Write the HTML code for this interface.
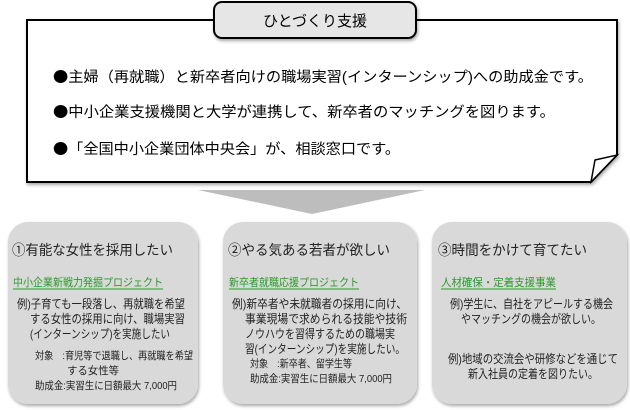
<!DOCTYPE html>
<html><head><meta charset="utf-8"><style>
html,body{margin:0;padding:0;background:#fff;}
svg{display:block;font-family:"Liberation Sans","Noto Sans CJK JP",sans-serif;}
.b{font-family:"Noto Sans CJK JP",sans-serif;}
</style></head><body>
<svg width="630" height="410" viewBox="0 0 630 410" xmlns="http://www.w3.org/2000/svg">
<defs>
<filter id="sh" x="-10%" y="-10%" width="130%" height="130%"><feDropShadow dx="1" dy="2" stdDeviation="1.5" flood-color="#000" flood-opacity="0.35"/></filter>
</defs>
<path d="M27,20 H617 V155 L591,182 H27 Z" fill="#fff" stroke="#000" stroke-width="2" filter="url(#sh)"/>
<path d="M591,182 L595,160 L617,155 Z" fill="#fff" stroke="#000" stroke-width="1.5"/>
<rect x="214" y="2" width="202" height="36" rx="8" fill="#e6e6e6" stroke="#000" stroke-width="2" filter="url(#sh)"/>
<text x="315" y="26" font-size="15" text-anchor="middle" fill="#000">ひとづくり支援</text>
<g font-size="14.5" fill="#000">
<text x="53" y="82" textLength="540" lengthAdjust="spacingAndGlyphs"><tspan class="b">●</tspan>主婦（再就職）と新卒者向けの職場実習(インターンシップ)への助成金です。</text>
<text x="53" y="117" textLength="502" lengthAdjust="spacingAndGlyphs"><tspan class="b">●</tspan>中小企業支援機関と大学が連携して、新卒者のマッチングを図ります。</text>
<text x="53" y="154" textLength="347" lengthAdjust="spacingAndGlyphs"><tspan class="b">●</tspan>「全国中小企業団体中央会」が、相談窓口です。</text>
</g>
<path d="M198,190 H425 L312,214 Z" fill="#bdbdbd"/>
<g fill="#d9d9d9" filter="url(#sh)">
<rect x="8" y="222" width="190" height="182" rx="20"/>
<rect x="223" y="222" width="194" height="182" rx="20"/>
<rect x="432" y="222" width="195" height="182" rx="20"/>
</g>
<g fill="#222">
<text x="12" y="255" font-size="14" textLength="161" lengthAdjust="spacingAndGlyphs">①有能な女性を採用したい</text>
<text x="228" y="255" font-size="14" textLength="162" lengthAdjust="spacingAndGlyphs">②やる気ある若者が欲しい</text>
<text x="438" y="255" font-size="14" textLength="149" lengthAdjust="spacingAndGlyphs">③時間をかけて育てたい</text>
</g>
<g fill="#2a9a2a" font-size="11">
<text x="13" y="286" textLength="150" lengthAdjust="spacingAndGlyphs">中小企業新戦力発掘プロジェクト</text>
<line x1="13" y1="289" x2="163" y2="289" stroke="#2a9a2a"/>
<text x="229" y="286" textLength="130" lengthAdjust="spacingAndGlyphs">新卒者就職応援プロジェクト</text>
<line x1="229" y1="289" x2="359" y2="289" stroke="#2a9a2a"/>
<text x="441" y="286" textLength="115" lengthAdjust="spacingAndGlyphs">人材確保・定着支援事業</text>
<line x1="441" y1="289" x2="556" y2="289" stroke="#2a9a2a"/>
</g>
<g fill="#222" font-size="12">
<text x="17" y="308" textLength="168" lengthAdjust="spacingAndGlyphs">例)子育ても一段落し、再就職を希望</text>
<text x="30" y="323" textLength="155" lengthAdjust="spacingAndGlyphs">する女性の採用に向け、職場実習</text>
<text x="30" y="338" textLength="140" lengthAdjust="spacingAndGlyphs">(インターンシップ)を実施したい</text>
<text x="232" y="308" textLength="175" lengthAdjust="spacingAndGlyphs">例)新卒者や未就職者の採用に向け、</text>
<text x="245" y="323" textLength="162" lengthAdjust="spacingAndGlyphs">事業現場で求められる技能や技術</text>
<text x="245" y="338" textLength="150" lengthAdjust="spacingAndGlyphs">ノウハウを習得するための職場実</text>
<text x="245" y="353" textLength="160" lengthAdjust="spacingAndGlyphs">習(インターンシップ)を実施したい。</text>
<text x="450" y="308" textLength="163" lengthAdjust="spacingAndGlyphs">例)学生に、自社をアピールする機会</text>
<text x="531" y="323" text-anchor="middle" textLength="140" lengthAdjust="spacingAndGlyphs">やマッチングの機会が欲しい。</text>
<text x="448" y="363" textLength="170" lengthAdjust="spacingAndGlyphs">例)地域の交流会や研修などを通じて</text>
<text x="533" y="378" text-anchor="middle" textLength="130" lengthAdjust="spacingAndGlyphs">新入社員の定着を図りたい。</text>
</g>
<g fill="#222" font-size="10.5">
<text x="35" y="359" textLength="158" lengthAdjust="spacingAndGlyphs">対象　:育児等で退職し、再就職を希望</text>
<text x="67" y="374" textLength="52" lengthAdjust="spacingAndGlyphs">する女性等</text>
<text x="35" y="389" textLength="142" lengthAdjust="spacingAndGlyphs">助成金:実習生に日額最大 7,000円</text>
<text x="250" y="367" textLength="102" lengthAdjust="spacingAndGlyphs">対象　:新卒者、留学生等</text>
<text x="250" y="382" textLength="142" lengthAdjust="spacingAndGlyphs">助成金:実習生に日額最大 7,000円</text>
</g>
</svg>
</body></html>
